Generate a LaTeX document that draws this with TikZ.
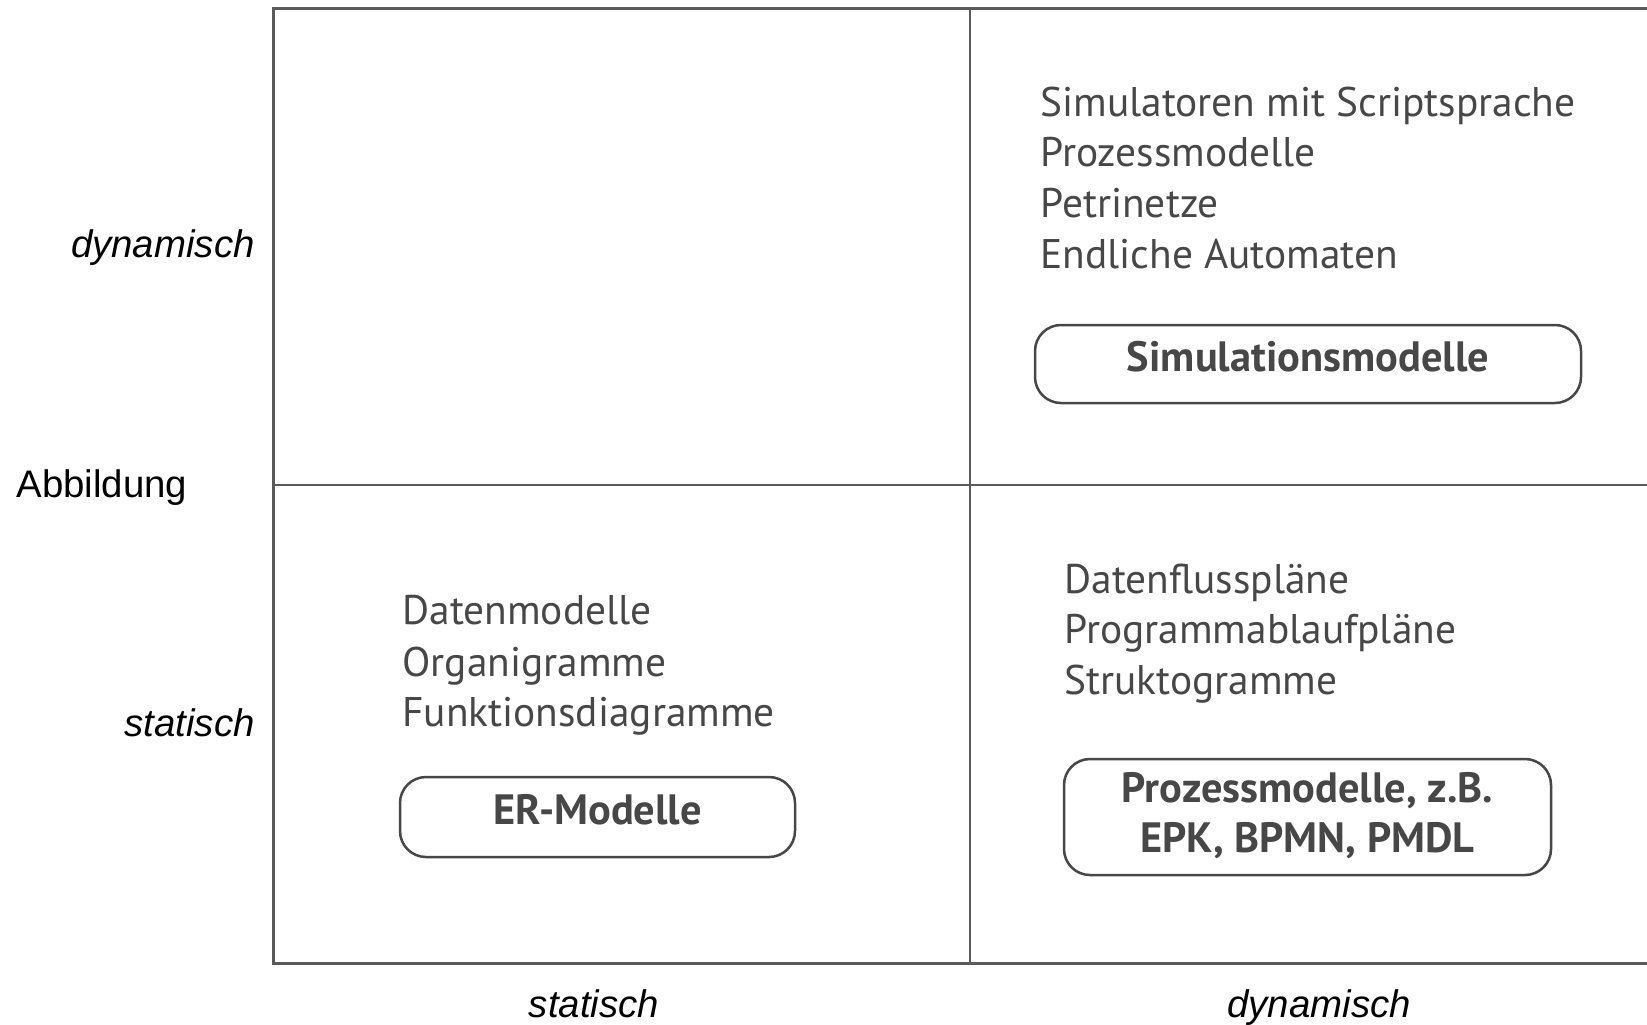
\documentclass[tikz,border=0pt]{standalone}
\usepackage{fontspec}
\setmainfont{PT Sans}
\newfontfamily\labelfont{Liberation Sans}
\definecolor{framegray}{HTML}{5A5A5A}
\definecolor{textgray}{HTML}{474747}
\begin{document}
\begin{tikzpicture}[x=0.5pt,y=-0.5pt,
  outerline/.style={draw=framegray,line width=1.5pt},
  innerline/.style={draw=framegray,line width=1pt},
  axislabel/.style={font=\labelfont\fontsize{19.2}{23}\selectfont,text=black,inner sep=0pt},
  itemtext/.style={font=\fontsize{20.7}{25}\selectfont,text=textgray,inner sep=0pt,anchor=base west},
  boxtext/.style={font=\bfseries\fontsize{21.2}{25}\selectfont,text=textgray,inner sep=0pt,anchor=base},
  modelbox/.style={draw=textgray,line width=1.25pt,rounded corners=13pt,inner sep=0pt}]
\useasboundingbox (0,0) rectangle (1647,1024);

% quadrant grid (open to the right)
\coordinate (tl) at (273,8.5);
\coordinate (tr) at (1647,8.5);
\coordinate (bl) at (273,963);
\coordinate (br) at (1647,963);
\coordinate (mt) at (970,8.5);
\coordinate (mb) at (970,963);
\coordinate (ml) at (273,485);
\coordinate (mr) at (1647,485);
\draw[innerline] (mt) -- (mb);
\draw[innerline] (ml) -- (mr);
\draw[outerline] (tr) -- (tl) -- (bl) -- (br);

% axis labels
\node[axislabel,anchor=east] (ydyn) at (255,248) {\itshape dynamisch};
\node[axislabel,anchor=west] (yabb) at (16,488) {Abbildung};
\node[axislabel,anchor=east] (ystat) at (255,723) {\itshape statisch};
\node[axislabel,anchor=base] (xstat) at (594,1017) {\itshape statisch};
\node[axislabel,anchor=base] (xdyn) at (1319,1017) {\itshape dynamisch};

% upper right quadrant
\node[itemtext] (q1a) at (1040,116) {Simulatoren mit Scriptsprache};
\node[itemtext] (q1b) at (1040,166) {Prozessmodelle};
\node[itemtext] (q1c) at (1040,217) {Petrinetze};
\node[itemtext] (q1d) at (1040,268) {Endliche Automaten};
\node[modelbox,minimum width=273pt,minimum height=39pt] (simbox) at (1308,364) {};
\node[boxtext] (simtext) at (1308,371) {Simulationsmodelle};

% lower left quadrant
\node[itemtext] (q3a) at (402,624) {Datenmodelle};
\node[itemtext] (q3b) at (402,676) {Organigramme};
\node[itemtext] (q3c) at (402,726) {Funktionsdiagramme};
\node[modelbox,minimum width=197.5pt,minimum height=40pt] (erbox) at (597.5,817) {};
\node[boxtext] (ertext) at (597.5,824) {ER-Modelle};

% lower right quadrant
\node[itemtext] (q4a) at (1064,593) {Datenflusspläne};
\node[itemtext] (q4b) at (1064,643) {Programmablaufpläne};
\node[itemtext] (q4c) at (1064,694) {Struktogramme};
\node[modelbox,minimum width=243.5pt,minimum height=58pt] (pmbox) at (1307.5,817) {};
\node[boxtext] (pmtext1) at (1307.5,802) {Prozessmodelle, z.B.};
\node[boxtext] (pmtext2) at (1307.5,852) {EPK, BPMN, PMDL};
\end{tikzpicture}
\end{document}
